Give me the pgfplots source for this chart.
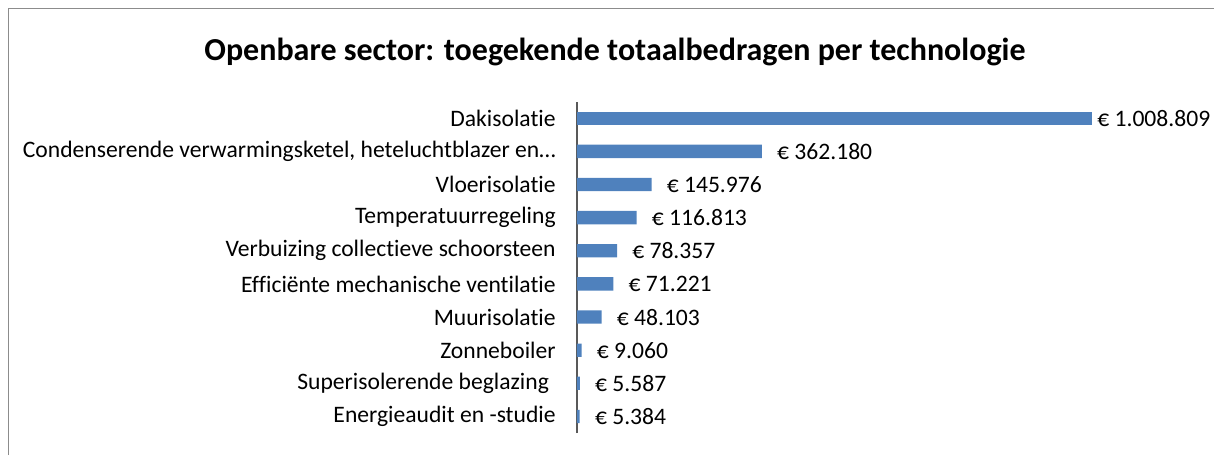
\documentclass[border=0pt]{standalone}
\usepackage{pgfplots}
\pgfplotsset{compat=1.18}
\usepackage{fontspec}
\setmainfont{Carlito}[Ligatures=CommonOff]
\definecolor{barblue}{HTML}{4F81BD}
\definecolor{framegray}{HTML}{8C8C8C}
\begin{document}
\begin{tikzpicture}
\useasboundingbox (0pt,0pt) rectangle (910.5pt,-341.25pt);
\draw[framegray, line width=1.2pt] (6.5pt,-341.25pt) -- (6.5pt,-6.5pt) -- (910.5pt,-6.5pt);
\node[font=\fontsize{24}{28}\selectfont\bfseries] at (461.25pt,-39pt) {Openbare sector: toegekende totaalbedragen per technologie};
\begin{axis}[
  at={(432.75pt,-324.75pt)}, anchor=south west,
  width=421.2pt, height=248.5pt, scale only axis,
  xmin=0, xmax=1100000,
  ymin=-0.5, ymax=9.5,
  axis x line=none,
  axis y line=left,
  axis line style={-, draw=gray!70!black, line width=0.8pt},
  ytick={0,...,9},
  yticklabels={Energieaudit en -studie, Superisolerende beglazing\kern5pt\null, Zonneboiler, Muurisolatie, Efficiënte mechanische ventilatie, Verbuizing collectieve schoorsteen, Temperatuurregeling, Vloerisolatie, {Condenserende verwarmingsketel, heteluchtblazer en…}, Dakisolatie},
  major tick length=0pt,
  yticklabel style={font=\fontsize{17.7}{21}\selectfont, anchor=east, xshift=-12.5pt},
  xbar, bar width=10pt, bar shift=0pt,
  point meta=x,
  /pgf/number format/fixed,
  /pgf/number format/precision=0,
  /pgf/number format/1000 sep={.},
  /pgf/number format/assume math mode=true,
  nodes near coords={€ \pgfmathprintnumber{\pgfplotspointmeta}},
  nodes near coords style={font=\fontsize{17.7}{21}\selectfont, anchor=west, inner sep=0pt, xshift=11.25pt},
  clip=false,
]
\addplot[fill=barblue, draw=none] coordinates {
(5384,0) (5587,1) (9060,2) (48103,3) (71221,4) (78357,5) (116813,6) (145976,7) (362180,8)
};
\addplot[fill=barblue, draw=none, every node near coord/.append style={xshift=-7.5pt}] coordinates {
(1008809,9)
};
\end{axis}
\end{tikzpicture}
\end{document}
